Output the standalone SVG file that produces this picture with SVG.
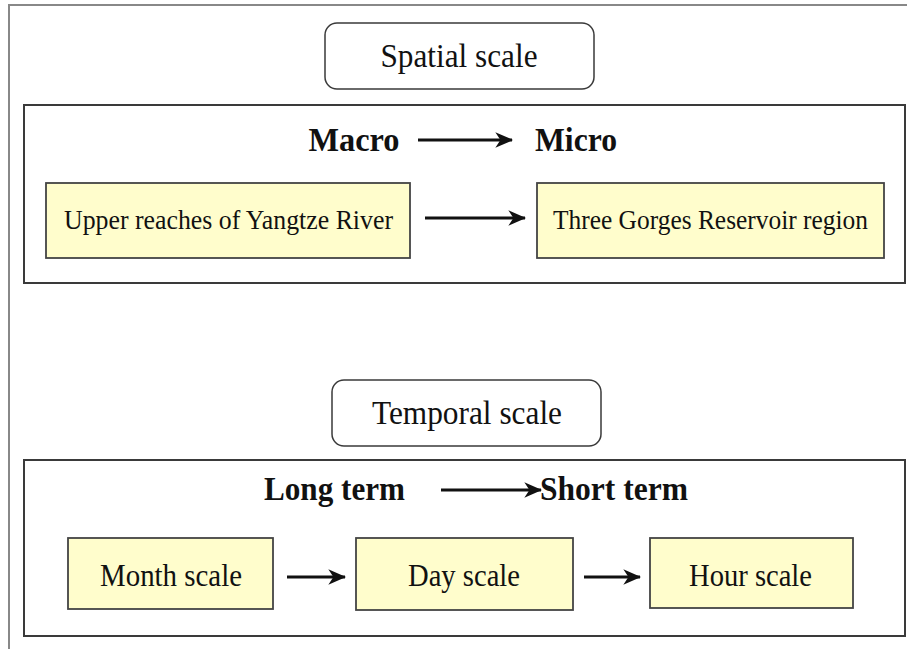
<svg xmlns="http://www.w3.org/2000/svg" width="907" height="649" viewBox="0 0 907 649">
<style>
.frame{fill:none;stroke:#888;stroke-width:2}
.panel{fill:#fff;stroke:#3a3a3a;stroke-width:2}
.title{fill:#fff;stroke:#3a3a3a;stroke-width:1.5}
.node{fill:#fffdcc;stroke:#444;stroke-width:1.8}
.t{font-family:"Liberation Serif",serif;fill:#111;text-anchor:middle}
.lab{font-size:33px}
.nt{font-size:27.5px}
.nt2{font-size:30.5px}
.bold{font-size:34px;font-weight:bold}
.arr{stroke:#111;stroke-width:3;fill:none;marker-end:url(#ah)}
</style>
<defs>
<marker id="ah" viewBox="0 0 14 12" refX="13" refY="6" markerWidth="18" markerHeight="15.4" orient="auto" markerUnits="userSpaceOnUse">
<path d="M0,0 L14,6 L0,12 L4,6 Z" fill="#111"/>
</marker>
</defs>
<rect width="907" height="649" fill="#fff"/>
<path class="frame" d="M9,649 V5 H907"/>
<g id="spatial-title"><rect class="title" x="325" y="23" width="269" height="66" rx="12"/><text class="t lab" x="459" y="67" textLength="157" lengthAdjust="spacingAndGlyphs">Spatial scale</text></g>
<g id="spatial-panel"><rect class="panel" x="24" y="105" width="881" height="178"/></g>
<g id="macro"><text class="t bold" x="354" y="151" textLength="91" lengthAdjust="spacingAndGlyphs">Macro</text></g>
<g id="micro"><text class="t bold" x="576" y="151" textLength="82" lengthAdjust="spacingAndGlyphs">Micro</text></g>
<g id="upper"><rect class="node" x="46" y="183" width="364" height="75"/><text class="t nt" x="228.5" y="229" textLength="329" lengthAdjust="spacingAndGlyphs">Upper reaches of Yangtze River</text></g>
<g id="three-gorges"><rect class="node" x="537" y="183" width="347" height="75"/><text class="t nt" x="710.5" y="229" textLength="315" lengthAdjust="spacingAndGlyphs">Three Gorges Reservoir region</text></g>
<g id="temporal-title"><rect class="title" x="332" y="380" width="269" height="66" rx="12"/><text class="t lab" x="467" y="424" textLength="190" lengthAdjust="spacingAndGlyphs">Temporal scale</text></g>
<g id="temporal-panel"><rect class="panel" x="24" y="460" width="881" height="176"/></g>
<g id="long-term"><text class="t bold" x="334.5" y="500" textLength="141" lengthAdjust="spacingAndGlyphs">Long term</text></g>
<g id="short-term"><text class="t bold" x="614" y="500" textLength="148" lengthAdjust="spacingAndGlyphs">Short term</text></g>
<g id="month"><rect class="node" x="68" y="538" width="205" height="71"/><text class="t nt2" x="171" y="586" textLength="142" lengthAdjust="spacingAndGlyphs">Month scale</text></g>
<g id="day"><rect class="node" x="356" y="538" width="217" height="72"/><text class="t nt2" x="464" y="586" textLength="112" lengthAdjust="spacingAndGlyphs">Day scale</text></g>
<g id="hour"><rect class="node" x="650" y="538" width="203" height="70"/><text class="t nt2" x="750.5" y="586" textLength="123" lengthAdjust="spacingAndGlyphs">Hour scale</text></g>
<g id="connectors">
<line class="arr" x1="418" y1="140" x2="512" y2="140"/>
<line class="arr" x1="425" y1="218" x2="525" y2="218"/>
<line class="arr" x1="441" y1="490" x2="541" y2="490"/>
<line class="arr" x1="287" y1="577" x2="345" y2="577"/>
<line class="arr" x1="584" y1="577" x2="640" y2="577"/>
</g>
</svg>
